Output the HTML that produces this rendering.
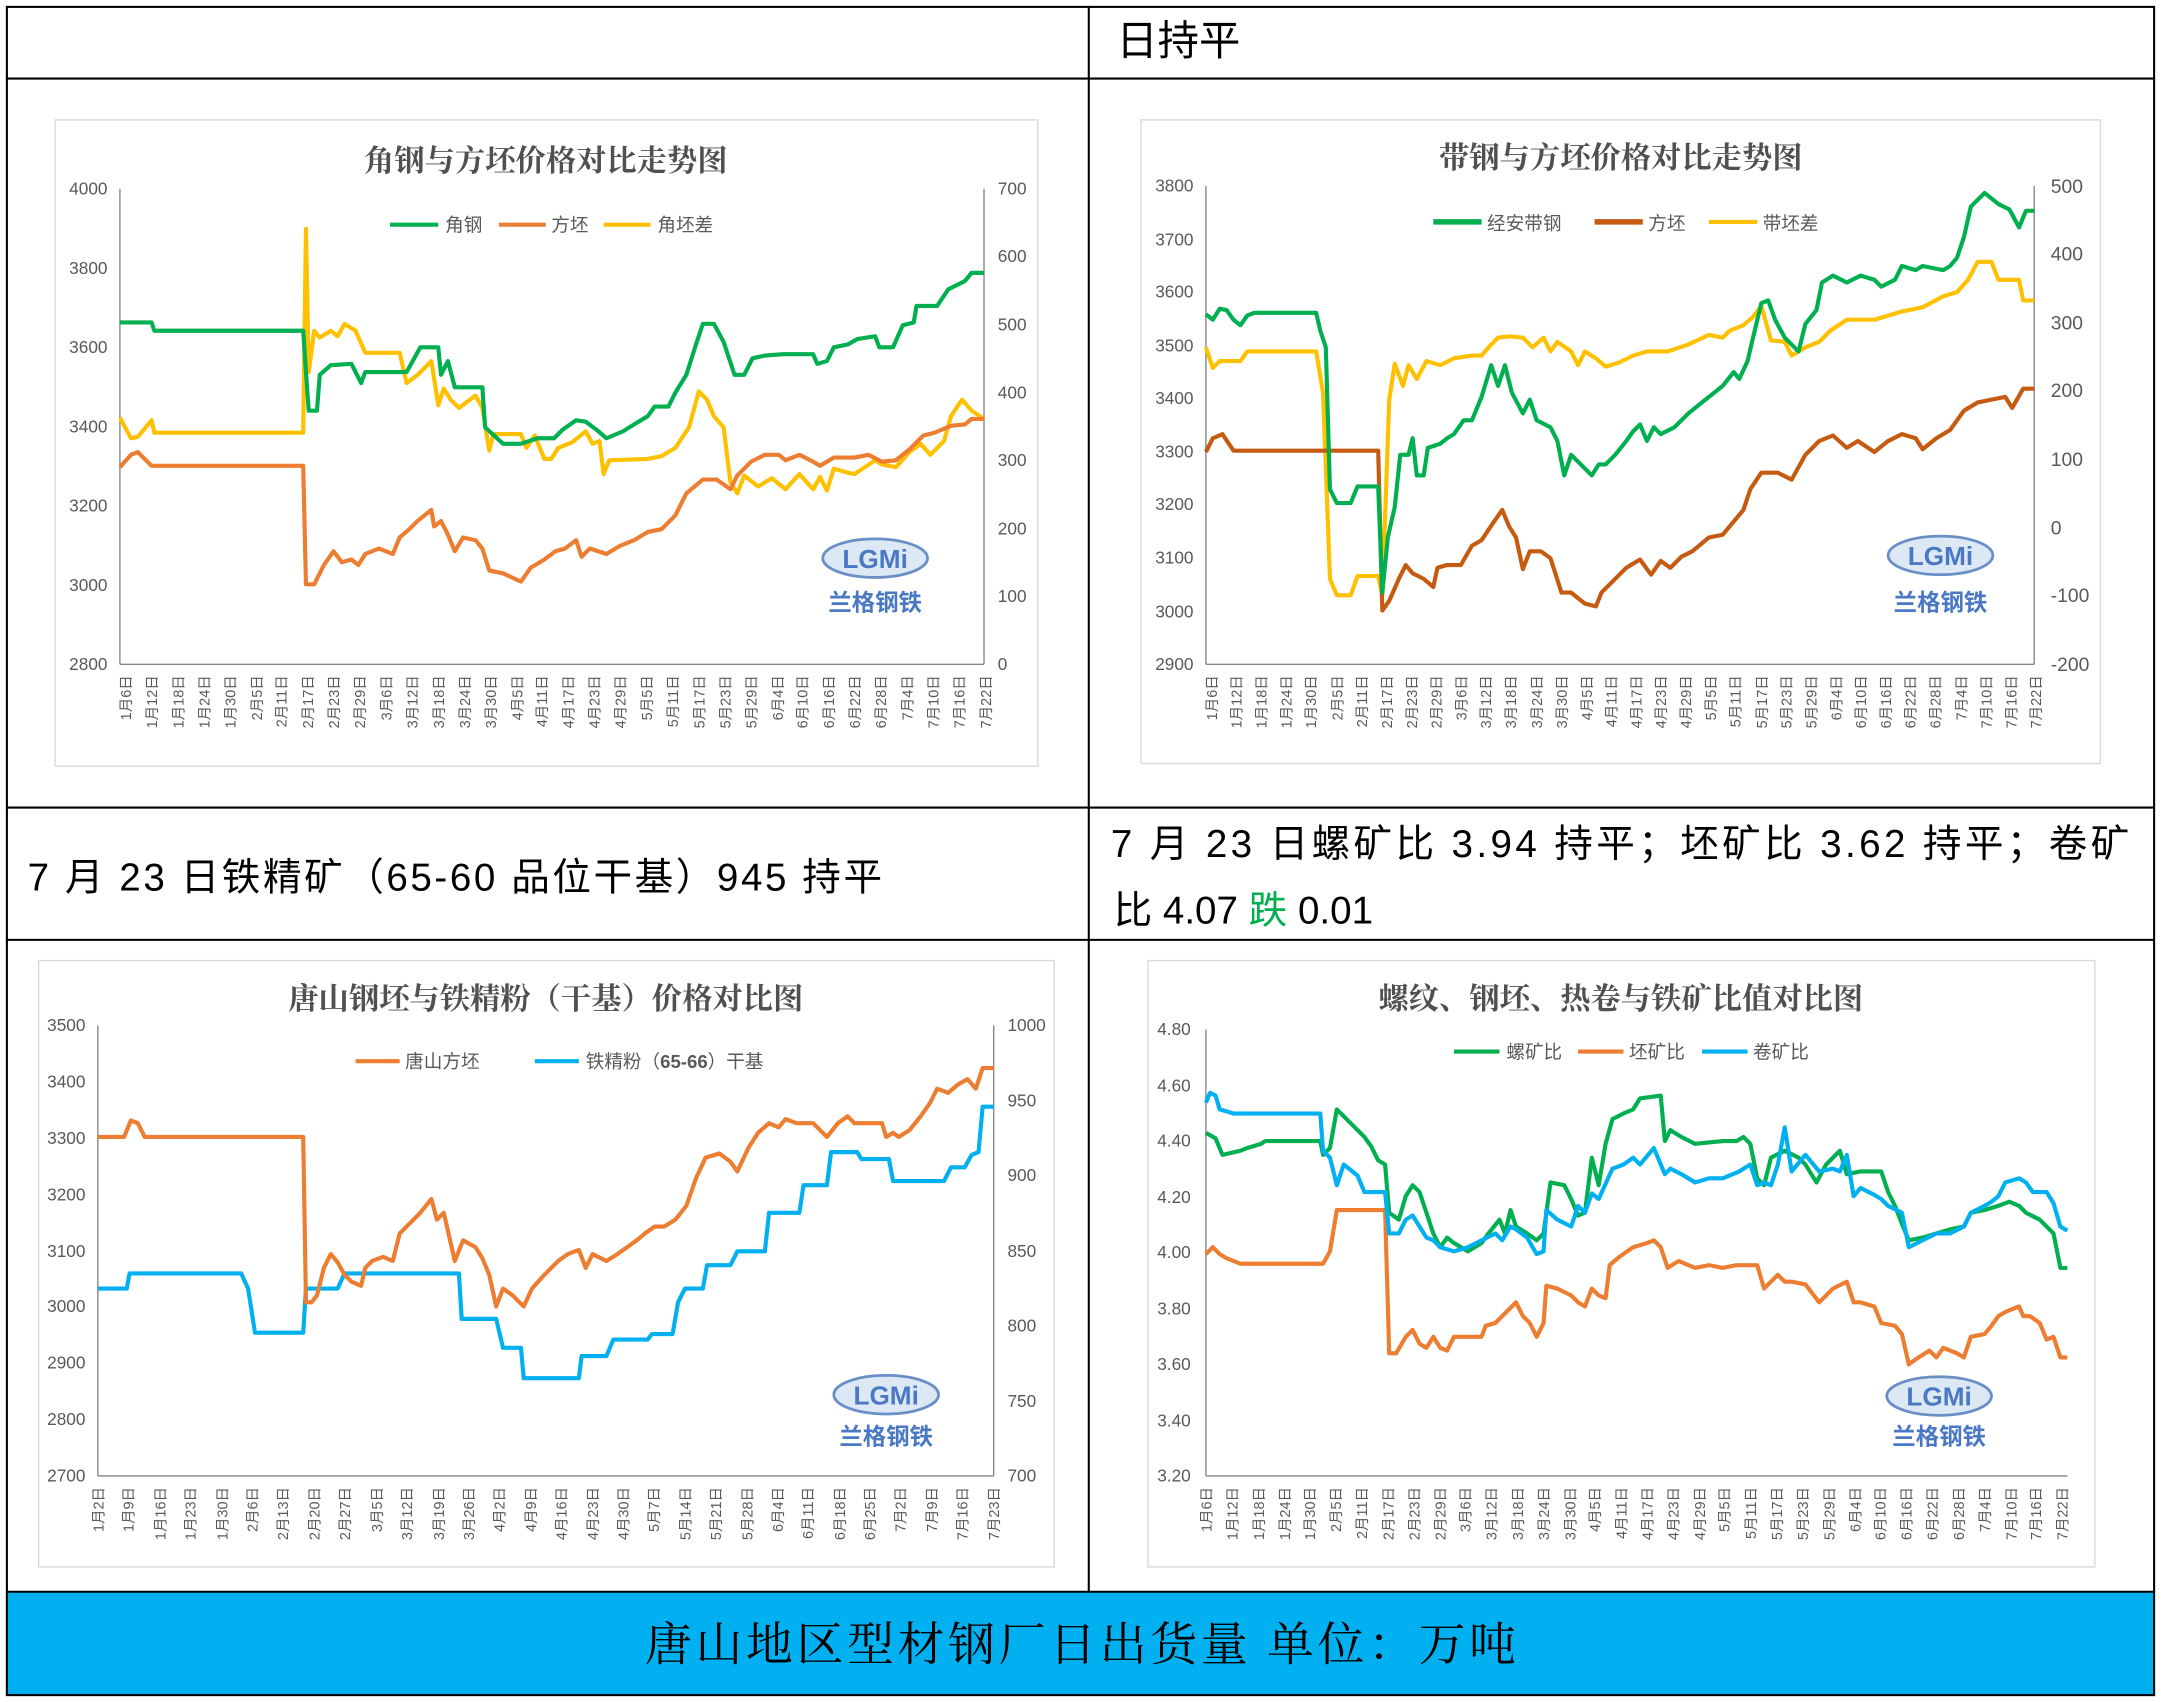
<!DOCTYPE html>
<html><head><meta charset="utf-8"><style>
html,body{margin:0;padding:0;background:#fff}
svg{display:block}
text{font-family:"Liberation Sans","Noto Sans CJK SC",sans-serif}
.t{font-family:"Noto Serif CJK SC","Noto Sans CJK SC",serif;font-size:22px;font-weight:bold;fill:#505050;text-anchor:middle}
.ax{font-size:12.5px;fill:#595959}
.xl text{font-size:10.5px;fill:#595959;text-anchor:end}
.lg{font-size:13.5px;fill:#595959}
.big{font-family:"Liberation Sans","Noto Sans CJK SC",sans-serif;font-size:28px;fill:#000}
polyline{fill:none;stroke-width:3;stroke-linejoin:round}
</style></head><body>
<svg width="2161" height="1702" viewBox="0 0 1568 1235" preserveAspectRatio="none" xmlns="http://www.w3.org/2000/svg">
<rect x="0" y="0" width="1568" height="1235" fill="#fff"/>
<rect x="5" y="1155" width="1558" height="75" fill="#00b0f0"/>
<g stroke="#000" stroke-width="1.5" fill="none">
<rect x="5" y="5" width="1558" height="1225"/>
<line x1="5" y1="57" x2="1563" y2="57"/>
<line x1="5" y1="586" x2="1563" y2="586"/>
<line x1="5" y1="682" x2="1563" y2="682"/>
<line x1="5" y1="1155" x2="1563" y2="1155"/>
<line x1="790" y1="5" x2="790" y2="1155"/>
</g>
<text x="810" y="40" class="big" style="font-size:30px">日持平</text>
<text x="20" y="646" class="big" textLength="620" lengthAdjust="spacing">7 月 23 日铁精矿（65-60 品位干基）945 持平</text>
<text x="806" y="622" class="big" textLength="739" lengthAdjust="spacing">7 月 23 日螺矿比 3.94  持平；坯矿比 3.62  持平；卷矿</text>
<text x="808" y="670" class="big">比 4.07 <tspan fill="#00b050">跌</tspan> 0.01</text>
<text x="468" y="1205" textLength="632" lengthAdjust="spacing" style="font-family:'Noto Serif CJK SC',serif;font-size:34px;fill:#000">唐山地区型材钢厂日出货量  单位：万吨</text>

<g fill="#fff" stroke="#d9d9d9" stroke-width="1">
<rect x="40" y="87" width="713" height="469"/>
<rect x="828" y="87" width="696" height="467"/>
<rect x="28" y="697" width="737" height="440"/>
<rect x="833" y="697" width="687" height="440"/>
</g>

<!-- CHART 1 -->
<text x="396" y="124" class="t">角钢与方坯价格对比走势图</text>
<g stroke="#868686" stroke-width="1">
<line x1="87" y1="137" x2="87" y2="482"/><line x1="714" y1="137" x2="714" y2="482"/><line x1="87" y1="482" x2="714" y2="482"/>
</g>
<g class="ax" text-anchor="end">
<text x="78" y="486">2800</text><text x="78" y="429">3000</text><text x="78" y="371">3200</text><text x="78" y="314">3400</text><text x="78" y="256">3600</text><text x="78" y="199">3800</text><text x="78" y="141">4000</text>
</g>
<g class="ax">
<text x="724" y="486">0</text><text x="724" y="437">100</text><text x="724" y="388">200</text><text x="724" y="338">300</text><text x="724" y="289">400</text><text x="724" y="240">500</text><text x="724" y="190">600</text><text x="724" y="141">700</text>
</g>
<g class="xl">
<text transform="translate(95,490) rotate(-90)">1月6日</text><text transform="translate(114,490) rotate(-90)">1月12日</text><text transform="translate(133,490) rotate(-90)">1月18日</text><text transform="translate(152,490) rotate(-90)">1月24日</text><text transform="translate(171,490) rotate(-90)">1月30日</text><text transform="translate(190,490) rotate(-90)">2月5日</text><text transform="translate(208,490) rotate(-90)">2月11日</text><text transform="translate(227,490) rotate(-90)">2月17日</text><text transform="translate(246,490) rotate(-90)">2月23日</text><text transform="translate(265,490) rotate(-90)">2月29日</text><text transform="translate(284,490) rotate(-90)">3月6日</text><text transform="translate(303,490) rotate(-90)">3月12日</text><text transform="translate(322,490) rotate(-90)">3月18日</text><text transform="translate(341,490) rotate(-90)">3月24日</text><text transform="translate(360,490) rotate(-90)">3月30日</text><text transform="translate(379,490) rotate(-90)">4月5日</text><text transform="translate(397,490) rotate(-90)">4月11日</text><text transform="translate(416,490) rotate(-90)">4月17日</text><text transform="translate(435,490) rotate(-90)">4月23日</text><text transform="translate(454,490) rotate(-90)">4月29日</text><text transform="translate(473,490) rotate(-90)">5月5日</text><text transform="translate(492,490) rotate(-90)">5月11日</text><text transform="translate(511,490) rotate(-90)">5月17日</text><text transform="translate(530,490) rotate(-90)">5月23日</text><text transform="translate(549,490) rotate(-90)">5月29日</text><text transform="translate(568,490) rotate(-90)">6月4日</text><text transform="translate(586,490) rotate(-90)">6月10日</text><text transform="translate(605,490) rotate(-90)">6月16日</text><text transform="translate(624,490) rotate(-90)">6月22日</text><text transform="translate(643,490) rotate(-90)">6月28日</text><text transform="translate(662,490) rotate(-90)">7月4日</text><text transform="translate(681,490) rotate(-90)">7月10日</text><text transform="translate(700,490) rotate(-90)">7月16日</text><text transform="translate(719,490) rotate(-90)">7月22日</text>
</g>
<line x1="283" y1="163" x2="318" y2="163" stroke="#00b050" stroke-width="3"/><text x="323" y="168" class="lg">角钢</text>
<line x1="362" y1="163" x2="396" y2="163" stroke="#ed7d31" stroke-width="3"/><text x="400" y="168" class="lg">方坯</text>
<line x1="438" y1="163" x2="472" y2="163" stroke="#ffc000" stroke-width="3"/><text x="477" y="168" class="lg">角坯差</text>
<polyline stroke="#ffc000" points="87,303 95,318 100,317 110,305 112,314 220,314 222,166 224,270 228,240 232,245 240,240 245,244 250,235 258,240 265,256 290,256 295,278 303,272 313,262 318,294 322,282 327,290 333,296 345,287 350,296 355,327 358,315 378,315 382,325 388,316 395,333 400,333 405,325 415,321 425,313 430,322 435,320 438,344 442,334 470,333 480,331 490,325 500,310 507,284 513,290 518,302 525,310 530,350 535,358 540,345 550,353 560,347 570,355 580,344 590,355 595,346 600,356 605,340 615,343 620,344 635,334 640,337 650,339 660,328 668,322 675,330 685,320 690,302 698,290 705,298 714,304"/>
<polyline stroke="#ed7d31" points="87,339 95,330 100,328 110,338 220,338 222,424 228,424 230,420 235,410 242,400 248,408 255,406 260,410 265,402 275,398 285,402 290,390 297,384 303,378 308,374 313,370 315,382 320,378 325,388 330,400 336,390 345,392 350,398 355,414 365,416 378,422 385,412 395,406 403,400 410,398 418,392 422,404 428,398 440,402 450,396 460,392 470,386 480,384 490,374 498,358 510,348 520,348 530,355 535,345 545,335 555,330 565,330 570,334 580,330 590,335 595,338 605,332 620,332 630,330 640,335 650,334 660,326 670,316 678,314 690,309 700,308 705,304 714,304"/>
<polyline stroke="#00b050" points="87,234 110,234 112,240 220,240 222,270 224,298 230,298 232,272 240,265 255,264 262,278 265,270 295,270 305,252 318,252 320,272 325,262 330,281 350,281 352,310 365,322 378,322 390,318 402,318 408,312 418,305 425,306 433,312 440,318 452,313 460,308 470,302 475,295 485,295 490,285 498,272 505,250 510,235 518,235 525,248 533,272 540,272 546,260 555,258 568,257 590,257 593,264 600,262 605,252 615,250 622,246 635,244 638,252 648,252 655,236 663,234 665,222 680,222 688,210 700,204 705,198 714,198"/>
<ellipse cx="635" cy="405" rx="38" ry="14" fill="#dde8f5" stroke="#6a8fc7" stroke-width="2"/>
<text x="635" y="412" text-anchor="middle" style="font-size:19px;font-weight:bold;fill:#4a78c4">LGMi</text>
<text x="635" y="443" text-anchor="middle" style="font-size:17px;font-weight:bold;fill:#4a78c4;font-family:'Noto Sans CJK SC',sans-serif">兰格钢铁</text>

<!-- CHART 2 -->
<text x="1176" y="122" class="t">带钢与方坯价格对比走势图</text>
<g stroke="#868686" stroke-width="1">
<line x1="875" y1="135" x2="875" y2="482"/><line x1="1476" y1="135" x2="1476" y2="482"/><line x1="875" y1="482" x2="1476" y2="482"/>
</g>
<g class="ax" text-anchor="end">
<text x="866" y="486">2900</text><text x="866" y="448">3000</text><text x="866" y="409">3100</text><text x="866" y="370">3200</text><text x="866" y="332">3300</text><text x="866" y="293">3400</text><text x="866" y="255">3500</text><text x="866" y="216">3600</text><text x="866" y="178">3700</text><text x="866" y="139">3800</text>
</g>
<g class="ax" style="font-size:14px">
<text x="1488" y="487">-200</text><text x="1488" y="437">-100</text><text x="1488" y="388">0</text><text x="1488" y="338">100</text><text x="1488" y="288">200</text><text x="1488" y="239">300</text><text x="1488" y="189">400</text><text x="1488" y="140">500</text>
</g>
<g class="xl">
<text transform="translate(883,490) rotate(-90)">1月6日</text><text transform="translate(901,490) rotate(-90)">1月12日</text><text transform="translate(919,490) rotate(-90)">1月18日</text><text transform="translate(937,490) rotate(-90)">1月24日</text><text transform="translate(955,490) rotate(-90)">1月30日</text><text transform="translate(974,490) rotate(-90)">2月5日</text><text transform="translate(992,490) rotate(-90)">2月11日</text><text transform="translate(1010,490) rotate(-90)">2月17日</text><text transform="translate(1028,490) rotate(-90)">2月23日</text><text transform="translate(1046,490) rotate(-90)">2月29日</text><text transform="translate(1064,490) rotate(-90)">3月6日</text><text transform="translate(1082,490) rotate(-90)">3月12日</text><text transform="translate(1100,490) rotate(-90)">3月18日</text><text transform="translate(1119,490) rotate(-90)">3月24日</text><text transform="translate(1137,490) rotate(-90)">3月30日</text><text transform="translate(1155,490) rotate(-90)">4月5日</text><text transform="translate(1173,490) rotate(-90)">4月11日</text><text transform="translate(1191,490) rotate(-90)">4月17日</text><text transform="translate(1209,490) rotate(-90)">4月23日</text><text transform="translate(1227,490) rotate(-90)">4月29日</text><text transform="translate(1245,490) rotate(-90)">5月5日</text><text transform="translate(1263,490) rotate(-90)">5月11日</text><text transform="translate(1282,490) rotate(-90)">5月17日</text><text transform="translate(1300,490) rotate(-90)">5月23日</text><text transform="translate(1318,490) rotate(-90)">5月29日</text><text transform="translate(1336,490) rotate(-90)">6月4日</text><text transform="translate(1354,490) rotate(-90)">6月10日</text><text transform="translate(1372,490) rotate(-90)">6月16日</text><text transform="translate(1390,490) rotate(-90)">6月22日</text><text transform="translate(1408,490) rotate(-90)">6月28日</text><text transform="translate(1427,490) rotate(-90)">7月4日</text><text transform="translate(1445,490) rotate(-90)">7月10日</text><text transform="translate(1463,490) rotate(-90)">7月16日</text><text transform="translate(1481,490) rotate(-90)">7月22日</text>
</g>
<line x1="1040" y1="161" x2="1075" y2="161" stroke="#00b050" stroke-width="4"/><text x="1079" y="167" class="lg">经安带钢</text>
<line x1="1157" y1="161" x2="1192" y2="161" stroke="#c55a11" stroke-width="4"/><text x="1196" y="167" class="lg">方坯</text>
<line x1="1240" y1="161" x2="1275" y2="161" stroke="#ffc000" stroke-width="3"/><text x="1279" y="167" class="lg">带坯差</text>
<polyline stroke="#ffc000" stroke-width="2.5" points="875,252 880,267 885,262 900,262 905,255 955,255 960,285 965,420 970,432 980,432 985,418 1000,418 1003,432 1008,290 1012,264 1018,280 1022,265 1028,275 1035,262 1045,265 1055,260 1068,258 1075,258 1082,250 1087,245 1095,244 1105,245 1112,252 1120,245 1125,255 1130,248 1140,255 1145,265 1150,255 1158,260 1165,266 1175,263 1185,258 1195,255 1210,255 1225,250 1240,243 1250,245 1255,240 1265,236 1272,230 1278,222 1285,247 1295,248 1300,258 1310,252 1320,248 1328,240 1340,232 1360,232 1380,226 1395,223 1410,215 1420,212 1428,203 1435,190 1445,190 1450,203 1465,203 1468,218 1476,218"/>
<polyline stroke="#c55a11" points="875,328 880,318 887,315 895,327 1000,327 1003,443 1008,436 1015,420 1020,410 1025,416 1033,420 1040,426 1043,412 1050,410 1060,410 1068,396 1075,392 1083,380 1090,370 1095,382 1100,390 1105,413 1110,400 1118,400 1125,405 1133,430 1140,430 1150,438 1158,440 1162,430 1170,422 1180,412 1190,406 1198,417 1205,407 1212,412 1220,404 1228,400 1240,390 1250,388 1255,382 1265,370 1270,355 1278,343 1290,343 1300,348 1310,330 1320,320 1330,316 1340,325 1348,320 1360,328 1370,320 1380,315 1390,318 1395,326 1405,318 1415,312 1425,298 1435,292 1445,290 1455,288 1460,296 1468,282 1476,282"/>
<polyline stroke="#00b050" stroke-width="3.5" points="875,228 880,232 885,224 890,225 895,232 900,236 905,229 910,227 955,227 958,240 962,252 965,355 970,365 980,365 985,353 1000,353 1003,430 1007,390 1012,368 1016,330 1022,330 1025,318 1028,345 1033,345 1036,325 1045,322 1050,318 1055,315 1062,305 1068,305 1075,288 1082,265 1087,280 1092,265 1097,285 1105,300 1110,290 1115,305 1125,310 1130,320 1135,345 1140,330 1145,335 1155,345 1160,337 1165,337 1172,330 1180,320 1185,313 1190,308 1195,320 1200,310 1205,315 1215,310 1225,300 1240,288 1250,280 1258,270 1262,275 1268,262 1272,245 1278,220 1283,218 1288,232 1295,245 1300,250 1305,255 1310,235 1318,225 1322,205 1330,200 1340,205 1350,200 1360,203 1365,208 1375,203 1380,193 1390,196 1395,193 1410,196 1415,193 1420,187 1425,172 1430,150 1440,140 1450,148 1458,152 1465,165 1470,153 1476,153"/>
<ellipse cx="1408" cy="403" rx="38" ry="14" fill="#dde8f5" stroke="#6a8fc7" stroke-width="2"/>
<text x="1408" y="410" text-anchor="middle" style="font-size:19px;font-weight:bold;fill:#4a78c4">LGMi</text>
<text x="1408" y="443" text-anchor="middle" style="font-size:17px;font-weight:bold;fill:#4a78c4;font-family:'Noto Sans CJK SC',sans-serif">兰格钢铁</text>

<!-- CHART 3 -->
<text x="396" y="732" class="t">唐山钢坯与铁精粉（干基）价格对比图</text>
<g stroke="#868686" stroke-width="1">
<line x1="71" y1="744" x2="71" y2="1071"/><line x1="721" y1="744" x2="721" y2="1071"/><line x1="71" y1="1071" x2="721" y2="1071"/>
</g>
<g class="ax" text-anchor="end">
<text x="62" y="1075">2700</text><text x="62" y="1034">2800</text><text x="62" y="993">2900</text><text x="62" y="952">3000</text><text x="62" y="912">3100</text><text x="62" y="871">3200</text><text x="62" y="830">3300</text><text x="62" y="789">3400</text><text x="62" y="748">3500</text>
</g>
<g class="ax">
<text x="731" y="1075">700</text><text x="731" y="1021">750</text><text x="731" y="966">800</text><text x="731" y="912">850</text><text x="731" y="857">900</text><text x="731" y="803">950</text><text x="731" y="748">1000</text>
</g>
<g class="xl">
<text transform="translate(75,1079) rotate(-90)">1月2日</text><text transform="translate(97,1079) rotate(-90)">1月9日</text><text transform="translate(120,1079) rotate(-90)">1月16日</text><text transform="translate(142,1079) rotate(-90)">1月23日</text><text transform="translate(165,1079) rotate(-90)">1月30日</text><text transform="translate(187,1079) rotate(-90)">2月6日</text><text transform="translate(209,1079) rotate(-90)">2月13日</text><text transform="translate(232,1079) rotate(-90)">2月20日</text><text transform="translate(254,1079) rotate(-90)">2月27日</text><text transform="translate(277,1079) rotate(-90)">3月5日</text><text transform="translate(299,1079) rotate(-90)">3月12日</text><text transform="translate(322,1079) rotate(-90)">3月19日</text><text transform="translate(344,1079) rotate(-90)">3月26日</text><text transform="translate(366,1079) rotate(-90)">4月2日</text><text transform="translate(389,1079) rotate(-90)">4月9日</text><text transform="translate(411,1079) rotate(-90)">4月16日</text><text transform="translate(434,1079) rotate(-90)">4月23日</text><text transform="translate(456,1079) rotate(-90)">4月30日</text><text transform="translate(478,1079) rotate(-90)">5月7日</text><text transform="translate(501,1079) rotate(-90)">5月14日</text><text transform="translate(523,1079) rotate(-90)">5月21日</text><text transform="translate(546,1079) rotate(-90)">5月28日</text><text transform="translate(568,1079) rotate(-90)">6月4日</text><text transform="translate(590,1079) rotate(-90)">6月11日</text><text transform="translate(613,1079) rotate(-90)">6月18日</text><text transform="translate(635,1079) rotate(-90)">6月25日</text><text transform="translate(657,1079) rotate(-90)">7月2日</text><text transform="translate(680,1079) rotate(-90)">7月9日</text><text transform="translate(702,1079) rotate(-90)">7月16日</text><text transform="translate(725,1079) rotate(-90)">7月23日</text>
</g>
<line x1="258" y1="770" x2="290" y2="770" stroke="#ed7d31" stroke-width="3"/><text x="294" y="775" class="lg">唐山方坯</text>
<line x1="388" y1="770" x2="420" y2="770" stroke="#00b0f0" stroke-width="3"/><text x="425" y="775" class="lg">铁精粉（<tspan font-weight="bold">65-66</tspan>）干基</text>
<polyline stroke="#00b0f0" points="71,935 92,935 94,924 175,924 180,935 185,967 220,967 222,935 245,935 250,924 333,924 335,957 360,957 365,978 378,978 380,1000 420,1000 422,984 440,984 445,972 470,972 473,968 488,968 492,945 497,935 510,935 513,918 530,918 535,908 555,908 558,880 580,880 583,860 600,860 603,836 622,836 625,841 645,841 648,857 685,857 690,847 700,847 705,838 710,836 713,803 721,803"/>
<polyline stroke="#ed7d31" points="71,825 90,825 95,813 100,815 105,825 220,825 222,945 226,945 230,940 235,920 240,910 245,916 250,925 255,930 262,933 265,920 270,915 278,912 285,915 290,895 300,885 305,880 313,870 317,885 322,880 330,915 336,900 345,905 350,913 355,925 360,948 365,935 372,940 380,948 386,935 395,925 405,915 412,910 420,907 425,920 430,910 440,915 448,910 455,905 462,900 468,895 475,890 482,890 490,885 498,875 505,855 512,840 522,837 530,843 535,850 543,833 550,822 558,815 565,818 570,812 578,815 590,815 595,820 600,825 608,815 615,810 620,815 625,815 640,815 643,825 648,822 652,825 660,820 668,810 675,800 680,790 688,793 695,787 702,783 708,790 713,775 721,775"/>
<ellipse cx="643" cy="1012" rx="38" ry="14" fill="#dde8f5" stroke="#6a8fc7" stroke-width="2"/>
<text x="643" y="1019" text-anchor="middle" style="font-size:19px;font-weight:bold;fill:#4a78c4">LGMi</text>
<text x="643" y="1048" text-anchor="middle" style="font-size:17px;font-weight:bold;fill:#4a78c4;font-family:'Noto Sans CJK SC',sans-serif">兰格钢铁</text>

<!-- CHART 4 -->
<text x="1176" y="732" class="t">螺纹、钢坯、热卷与铁矿比值对比图</text>
<g stroke="#868686" stroke-width="1">
<line x1="875" y1="747" x2="875" y2="1071"/><line x1="875" y1="1071" x2="1500" y2="1071"/>
</g>
<g class="ax" text-anchor="end">
<text x="864" y="1075">3.20</text><text x="864" y="1035">3.40</text><text x="864" y="994">3.60</text><text x="864" y="954">3.80</text><text x="864" y="913">4.00</text><text x="864" y="873">4.20</text><text x="864" y="832">4.40</text><text x="864" y="792">4.60</text><text x="864" y="751">4.80</text>
</g>
<g class="xl">
<text transform="translate(879,1079) rotate(-90)">1月6日</text><text transform="translate(898,1079) rotate(-90)">1月12日</text><text transform="translate(917,1079) rotate(-90)">1月18日</text><text transform="translate(936,1079) rotate(-90)">1月24日</text><text transform="translate(954,1079) rotate(-90)">1月30日</text><text transform="translate(973,1079) rotate(-90)">2月5日</text><text transform="translate(992,1079) rotate(-90)">2月11日</text><text transform="translate(1011,1079) rotate(-90)">2月17日</text><text transform="translate(1030,1079) rotate(-90)">2月23日</text><text transform="translate(1049,1079) rotate(-90)">2月29日</text><text transform="translate(1067,1079) rotate(-90)">3月6日</text><text transform="translate(1086,1079) rotate(-90)">3月12日</text><text transform="translate(1105,1079) rotate(-90)">3月18日</text><text transform="translate(1124,1079) rotate(-90)">3月24日</text><text transform="translate(1143,1079) rotate(-90)">3月30日</text><text transform="translate(1161,1079) rotate(-90)">4月5日</text><text transform="translate(1180,1079) rotate(-90)">4月11日</text><text transform="translate(1199,1079) rotate(-90)">4月17日</text><text transform="translate(1218,1079) rotate(-90)">4月23日</text><text transform="translate(1237,1079) rotate(-90)">4月29日</text><text transform="translate(1255,1079) rotate(-90)">5月5日</text><text transform="translate(1274,1079) rotate(-90)">5月11日</text><text transform="translate(1293,1079) rotate(-90)">5月17日</text><text transform="translate(1312,1079) rotate(-90)">5月23日</text><text transform="translate(1331,1079) rotate(-90)">5月29日</text><text transform="translate(1350,1079) rotate(-90)">6月4日</text><text transform="translate(1368,1079) rotate(-90)">6月10日</text><text transform="translate(1387,1079) rotate(-90)">6月16日</text><text transform="translate(1406,1079) rotate(-90)">6月22日</text><text transform="translate(1425,1079) rotate(-90)">6月28日</text><text transform="translate(1444,1079) rotate(-90)">7月4日</text><text transform="translate(1463,1079) rotate(-90)">7月10日</text><text transform="translate(1481,1079) rotate(-90)">7月16日</text><text transform="translate(1500,1079) rotate(-90)">7月22日</text>
</g>
<line x1="1055" y1="763" x2="1088" y2="763" stroke="#00b050" stroke-width="3"/><text x="1093" y="768" class="lg">螺矿比</text>
<line x1="1145" y1="763" x2="1178" y2="763" stroke="#ed7d31" stroke-width="3"/><text x="1182" y="768" class="lg">坯矿比</text>
<line x1="1235" y1="763" x2="1268" y2="763" stroke="#00b0f0" stroke-width="3"/><text x="1272" y="768" class="lg">卷矿比</text>
<polyline stroke="#ed7d31" points="875,910 880,905 885,910 890,913 900,917 960,917 965,908 970,878 1005,878 1008,982 1013,982 1020,970 1025,965 1030,975 1035,978 1040,970 1045,978 1050,980 1055,970 1065,970 1075,970 1078,962 1085,960 1090,955 1095,950 1100,945 1105,955 1110,960 1115,970 1120,960 1122,933 1130,935 1140,940 1145,945 1150,948 1155,935 1160,940 1165,942 1168,918 1175,912 1185,905 1195,902 1200,900 1205,905 1210,920 1218,915 1225,918 1230,920 1240,918 1250,920 1260,918 1275,918 1280,935 1285,930 1290,925 1295,930 1300,930 1310,932 1320,945 1330,935 1340,930 1345,945 1350,945 1360,948 1365,960 1375,962 1380,968 1385,990 1392,985 1400,980 1405,985 1410,978 1420,982 1425,985 1430,970 1440,968 1445,962 1450,955 1455,952 1465,948 1468,955 1473,955 1480,960 1485,972 1490,970 1495,985 1500,985"/>
<polyline stroke="#00b050" points="875,822 882,826 887,838 900,835 905,833 915,830 918,828 958,828 960,838 965,833 970,805 975,810 980,815 985,820 990,825 995,832 1000,842 1005,845 1008,880 1015,885 1020,868 1025,860 1030,865 1035,880 1040,895 1045,905 1050,898 1055,902 1065,908 1075,902 1080,895 1088,885 1092,895 1096,878 1100,890 1108,895 1115,900 1120,895 1125,858 1135,860 1140,870 1145,882 1150,880 1155,840 1160,860 1165,830 1170,812 1178,808 1185,805 1190,797 1205,795 1208,828 1212,820 1220,825 1230,830 1250,828 1260,828 1265,825 1270,830 1275,855 1280,860 1285,840 1295,835 1305,840 1310,845 1318,858 1325,845 1330,840 1335,835 1340,852 1350,850 1365,850 1370,865 1375,875 1380,888 1385,900 1395,898 1405,895 1415,892 1425,890 1430,880 1440,878 1450,875 1458,872 1465,875 1470,880 1480,885 1490,895 1495,920 1500,920"/>
<polyline stroke="#00b0f0" points="875,800 878,793 882,795 885,805 895,808 958,808 960,835 965,840 970,860 975,845 985,853 990,865 1005,865 1008,895 1015,895 1020,885 1025,882 1030,890 1035,898 1040,900 1045,905 1055,908 1065,905 1075,900 1085,895 1090,900 1096,890 1100,892 1108,898 1115,910 1120,908 1122,878 1130,885 1140,890 1145,875 1150,880 1155,866 1160,870 1170,848 1178,845 1185,840 1190,845 1200,833 1208,852 1212,848 1220,852 1230,858 1240,855 1250,855 1262,850 1270,845 1275,860 1280,858 1285,860 1290,845 1295,818 1300,850 1310,838 1320,850 1330,848 1335,850 1340,838 1345,868 1350,862 1360,867 1365,870 1370,875 1380,880 1385,905 1395,900 1405,895 1415,895 1425,890 1430,880 1440,875 1445,872 1450,868 1455,858 1465,855 1470,858 1475,865 1485,865 1490,873 1495,890 1500,893"/>
<ellipse cx="1407" cy="1013" rx="38" ry="14" fill="#dde8f5" stroke="#6a8fc7" stroke-width="2"/>
<text x="1407" y="1020" text-anchor="middle" style="font-size:19px;font-weight:bold;fill:#4a78c4">LGMi</text>
<text x="1407" y="1048" text-anchor="middle" style="font-size:17px;font-weight:bold;fill:#4a78c4;font-family:'Noto Sans CJK SC',sans-serif">兰格钢铁</text>
</svg>
</body></html>
